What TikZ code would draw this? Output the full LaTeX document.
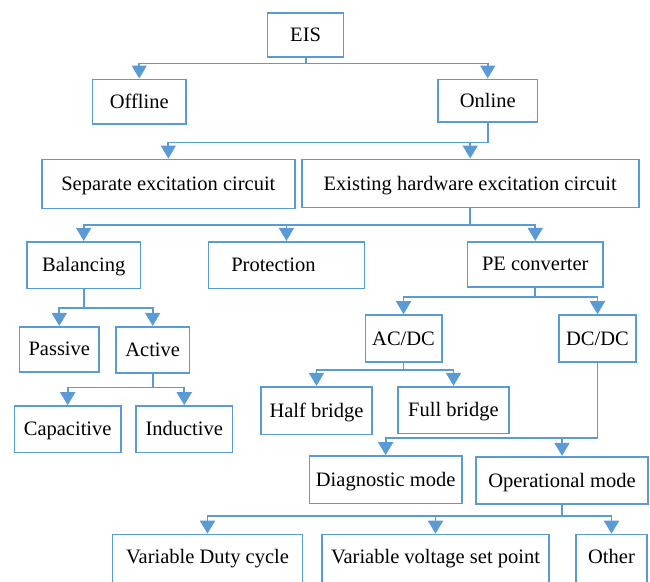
\documentclass[tikz,border=0pt]{standalone}
\usepackage{fontspec}
\setmainfont{Liberation Serif}
\newfontfamily\tnr{Liberation Serif}
\usetikzlibrary{arrows.meta}
\definecolor{blu}{RGB}{91,155,213}
\begin{document}
\begin{tikzpicture}[x=1pt,y=-1pt,
  box/.style={draw=blu, line width=1.6pt, inner sep=0pt, text height=13.5pt, text depth=0pt,
    font=\tnr\fontsize{20.5}{24}\selectfont, fill=white},
  conn/.style={draw=blu, line width=1.8pt, -{Triangle[length=13pt,width=15pt]}}]
\useasboundingbox (0,0) rectangle (650,581);
\clip (0,0) rectangle (650,581);
% nodes
\node[box, minimum width=76pt, minimum height=44pt] (eis) at (305.6,34.7) {EIS};
\node[box, minimum width=93.5pt, minimum height=44.7pt] (off) at (139.25,101.65) {Offline};
\node[box, minimum width=99.5pt, minimum height=42.7pt] (on) at (487.75,100.65) {Online};
\node[box, minimum width=253.3pt, minimum height=49pt] (sep) at (168.35,183.8) {Separate excitation circuit};
\node[box, minimum width=337pt, minimum height=48.2pt] (exi) at (470.2,183.4) {Existing hardware excitation circuit};
\node[box, minimum width=113.4pt, minimum height=46.6pt] (bal) at (83.7,265) {Balancing};
\node[box, minimum width=156.3pt, minimum height=46.6pt] (pro) at (286.45,265) {Protection\kern26pt};
\node[box, minimum width=135.5pt, minimum height=45pt] (pe) at (535.25,264.2) {PE converter};
\node[box, minimum width=79.4pt, minimum height=45pt] (pas) at (59.3,349.2) {Passive};
\node[box, minimum width=73.8pt, minimum height=46pt] (act) at (152.7,349.7) {Active};
\node[box, minimum width=76.3pt, minimum height=46.7pt] (acdc) at (403.55,338.35) {AC/DC};
\node[box, minimum width=77pt, minimum height=46.7pt] (dcdc) at (597.5,338.35) {DC/DC};
\node[box, minimum width=111pt, minimum height=47.6pt] (half) at (316.5,410.5) {Half bridge};
\node[box, minimum width=111pt, minimum height=46.6pt] (full) at (453.5,410) {Full bridge};
\node[box, minimum width=106.2pt, minimum height=46.3pt] (cap) at (67.7,429.15) {Capacitive};
\node[box, minimum width=96.5pt, minimum height=46.3pt] (ind) at (184.25,429.15) {Inductive};
\node[box, minimum width=152.1pt, minimum height=47.3pt] (diag) at (385.65,479.65) {Diagnostic mode};
\node[box, minimum width=172pt, minimum height=47.3pt] (oper) at (562,480.35) {Operational mode};
\node[box, minimum width=190pt, minimum height=52pt] (duty) at (207.5,560.5) {\raisebox{3.8pt}{Variable Duty cycle}};
\node[box, minimum width=227pt, minimum height=52pt] (volt) at (435.5,560.5) {\raisebox{3.8pt}{Variable voltage set point}};
\node[box, minimum width=71pt, minimum height=52pt] (oth) at (611.5,560.5) {\raisebox{3.8pt}{Other}};
% connectors
\draw[conn] (eis.south) -- ++(0,6) -| (off.north);
\draw[conn] (eis.south) -- ++(0,6) -| (on.north);
\draw[conn] (on.south) -- ++(0,19.7) -| (sep.north);
\draw[conn] (on.south) -- ++(0,19.7) -| (exi.north);
\draw[conn] (exi.south) -- ++(0,16.5) -| (bal.north);
\draw[conn] (exi.south) -- ++(0,16.5) -| (pro.north);
\draw[conn] (exi.south) -- ++(0,16.5) -| (pe.north);
\draw[conn] (bal.south) -- ++(0,19) -| (pas.north);
\draw[conn] (bal.south) -- ++(0,19) -| (act.north);
\draw[conn] (pe.south) -- ++(0,9.3) -| (acdc.north);
\draw[conn] (pe.south) -- ++(0,9.3) -| (dcdc.north);
\draw[conn] (acdc.south) -- ++(0,7.6) -| (half.north);
\draw[conn] (acdc.south) -- ++(0,7.6) -| (full.north);
\draw[conn] (act.south) -- ++(0,14) -| (cap.north);
\draw[conn] (act.south) -- ++(0,14) -| (ind.north);
\draw[conn] (dcdc.south) -- ++(0,75.3) -| (diag.north);
\draw[conn] (dcdc.south) -- ++(0,75.3) -| (oper.north);
\draw[conn] (oper.south) -- ++(0,11) -| (duty.north);
\draw[conn] (oper.south) -- ++(0,11) -| (volt.north);
\draw[conn] (oper.south) -- ++(0,11) -| (oth.north);
\end{tikzpicture}
\end{document}
